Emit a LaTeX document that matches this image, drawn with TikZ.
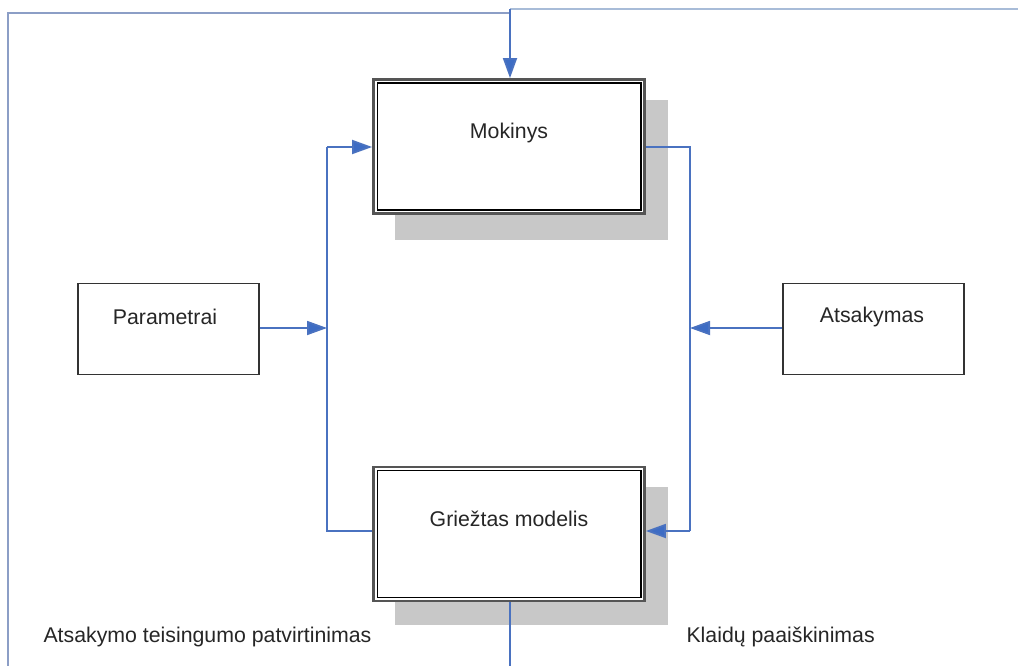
\documentclass[tikz,border=0pt]{standalone}
\usepackage{fontspec}
\setmainfont{Liberation Sans}
\usetikzlibrary{arrows.meta}
\definecolor{flow}{RGB}{74,114,192}
\definecolor{tip}{RGB}{61,108,196}
\definecolor{loopline}{RGB}{140,158,198}
\definecolor{loopline2}{RGB}{168,188,216}
\definecolor{shadowgray}{RGB}{200,200,200}
\definecolor{frame}{RGB}{85,85,85}
\tikzset{
  txt/.style={font=\fontsize{21.3}{25}\selectfont, text=black!85},
  mainbox/.style={draw=frame, line width=2.8pt, fill=white, minimum width=271pt, minimum height=134pt, inner sep=0pt},
  sidebox/.style={draw=black!80, line width=1.8pt, fill=white, minimum width=181pt, minimum height=91pt, inner sep=0pt},
  conn/.style={draw=flow, line width=1.8pt},
  arr/.style={conn, -{Triangle[length=20pt,width=14pt,fill=tip]}},
}
\begin{document}
\begin{tikzpicture}[x=1pt,y=-1pt]
\useasboundingbox (0,0) rectangle (1018,666);
\fill[white] (0,0) rectangle (1018,666);

% shadows under the two main boxes
\fill[shadowgray] (395,100) rectangle (668,240);
\fill[shadowgray] (395,487) rectangle (668,625);

% main boxes with double frame
\node[mainbox] (mok) at (509,146.5) {};
\node[mainbox] (griez) at (509,534) {};
\foreach \b in {mok,griez}
  \draw[black, line width=1.2pt] ([shift={(5,5)}]\b.north west) rectangle ([shift={(-5,-5)}]\b.south east);
\node[txt] (mokt) at (509,133) {Mokinys};
\node[txt] (griezt) at (509,519) {Griežtas modelis};

% side boxes
\node[sidebox] (par) at (168.5,329) {};
\node[txt] (part) at (165,317) {Parametrai};
\node[sidebox] (ats) at (873.5,329) {};
\node[txt] (atst) at (872,317) {Atsakymas};

% junction points
\coordinate (lt) at (327,147);
\coordinate (lm) at (327,328);
\coordinate (lb) at (327,531);
\coordinate (rt) at (690,147);
\coordinate (rm) at (690,328);
\coordinate (rb) at (690,531);

% left branch: model and parameters feed the learner
\draw[conn] (griez.west |- lb) -- (lb) -- (lt);
\draw[arr] (lt) -- (mok.west |- lt);
\draw[arr] (par.east |- lm) -- (lm);

% right branch: learner and answer feed the strict model
\draw[conn] (mok.east |- rt) -- (rt) -- (rb);
\draw[arr] (rb) -- (griez.east |- rb);
\draw[arr] (ats.west |- rm) -- (rm);

% outer feedback loop
\coordinate (bl) at (8,666);
\coordinate (tl) at (8,13);
\coordinate (tm) at (510,13);
\coordinate (tr) at (1018,9);
\coordinate (tm2) at (510,9);
\coordinate (bm) at (510,666);
\draw[draw=loopline, line width=2pt] (bl) -- (tl) -- (tm);
\draw[draw=loopline2, line width=2.2pt] (tm2) -- (tr);
\draw[arr] (tm2) -- (mok.north -| tm2);
\draw[conn] (griez.south -| bm) -- (bm);

% bottom captions
\node[txt, anchor=west] (cap1) at (40,637) {Atsakymo teisingumo patvirtinimas};
\node[txt, anchor=west] (cap2) at (683,637) {Klaidų paaiškinimas};
\end{tikzpicture}
\end{document}
